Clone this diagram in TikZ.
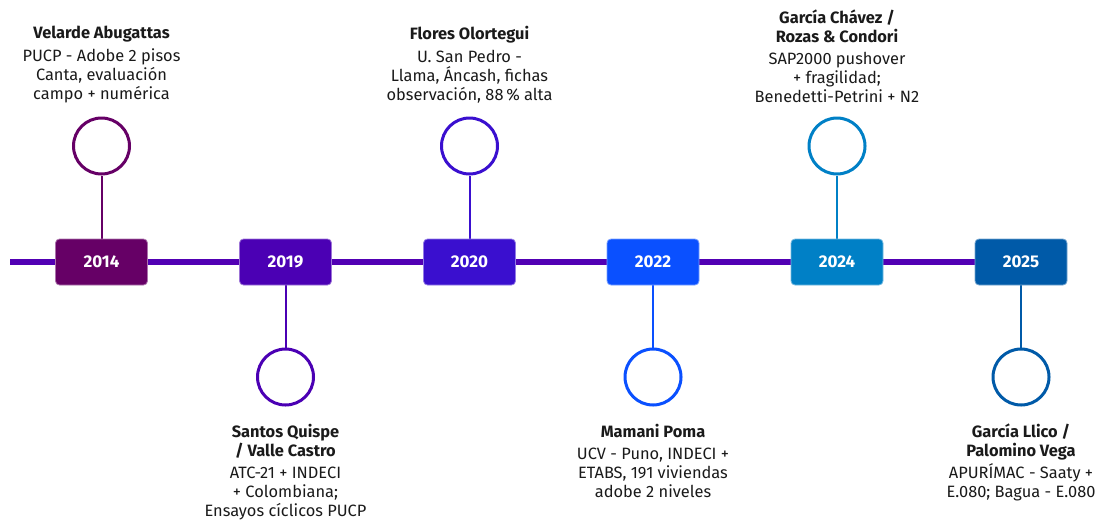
\documentclass[tikz,border=0pt]{standalone}
\usepackage{fontspec}
\setmainfont{Fira Sans}
\usetikzlibrary{backgrounds}

\definecolor{cA}{HTML}{660066}
\definecolor{cB}{HTML}{4B00B4}
\definecolor{cC}{HTML}{3A0FCF}
\definecolor{cD}{HTML}{0A50FF}
\definecolor{cE}{HTML}{0080C6}
\definecolor{cF}{HTML}{005AA8}
\definecolor{axis}{HTML}{5200B4}
\definecolor{ink}{HTML}{1A1A1A}

\tikzset{
  yearbox/.style={draw=#1!55!white, line width=0.8pt, fill=#1, rounded corners=4pt,
    minimum width=92pt, minimum height=46pt, inner sep=0pt,
    text=white, font=\fontsize{17}{20}\selectfont\bfseries},
  marker/.style={circle, draw=#1, line width=3pt, fill=white, minimum size=56pt, inner sep=0pt},
  stem/.style={draw=#1, line width=2pt},
  note/.style={align=center, inner sep=0pt, text=ink, font=\fontsize{16.4}{19}\selectfont},
}

\begin{document}
\begin{tikzpicture}[x=1pt, y=-1pt]
\useasboundingbox (0,0) rectangle (1099,523);

% year boxes on the axis
\node[yearbox=cA] (y14) at (101.5,262) {2014};
\node[yearbox=cB] (y19) at (285.5,262) {2019};
\node[yearbox=cC] (y20) at (469.5,262) {2020};
\node[yearbox=cD] (y22) at (653,262) {2022};
\node[yearbox=cE] (y24) at (837,262) {2024};
\node[yearbox=cF] (y25) at (1021,262) {2025};

% markers
\node[marker=cA] (m14) at (101.5,146) {};
\node[marker=cB] (m19) at (285.5,377) {};
\node[marker=cC] (m20) at (469.5,146) {};
\node[marker=cD] (m22) at (653,377) {};
\node[marker=cE] (m24) at (837,146) {};
\node[marker=cF] (m25) at (1021,377) {};

% axis and stems behind boxes
\coordinate (start) at (10,262);
\begin{scope}[on background layer]
  \draw[axis, line width=6pt] (start) -- (y25.west);
  \draw[stem=cA] (y14.north) -- (m14.south);
  \draw[stem=cB] (y19.south) -- (m19.north);
  \draw[stem=cC] (y20.north) -- (m20.south);
  \draw[stem=cD] (y22.south) -- (m22.north);
  \draw[stem=cE] (y24.north) -- (m24.south);
  \draw[stem=cF] (y25.south) -- (m25.north);
\end{scope}

% descriptions above
\node[note, anchor=south] (t14) at (101.5,103) {\textbf{Velarde Abugattas}\\[3.5pt]PUCP - Adobe 2 pisos\\Canta, evaluación\\campo + numérica};
\node[note, anchor=south] (t20) at (469.5,103) {\textbf{Flores Olortegui}\\[3.5pt]U. San Pedro -\\Llama, Áncash, fichas\\observación, 88\,\% alta};
\node[note, anchor=south] (t24) at (837,103) {\textbf{García Chávez /}\\\textbf{Rozas \& Condori}\\[3.5pt]SAP2000 pushover\\+ fragilidad;\\Benedetti-Petrini + N2};

% descriptions below
\node[note, anchor=north] (t19) at (285.5,424) {\textbf{Santos Quispe}\\\textbf{/ Valle Castro}\\[3pt]ATC-21 + INDECI\\+ Colombiana;\\Ensayos cíclicos PUCP};
\node[note, anchor=north] (t22) at (653,424) {\textbf{Mamani Poma}\\[3pt]UCV - Puno, INDECI +\\ETABS, 191 viviendas\\adobe 2 niveles};
\node[note, anchor=north] (t25) at (1021,424) {\textbf{García Llico /}\\\textbf{Palomino Vega}\\[3pt]APURÍMAC - Saaty +\\E.080; Bagua - E.080};
\end{tikzpicture}
\end{document}
